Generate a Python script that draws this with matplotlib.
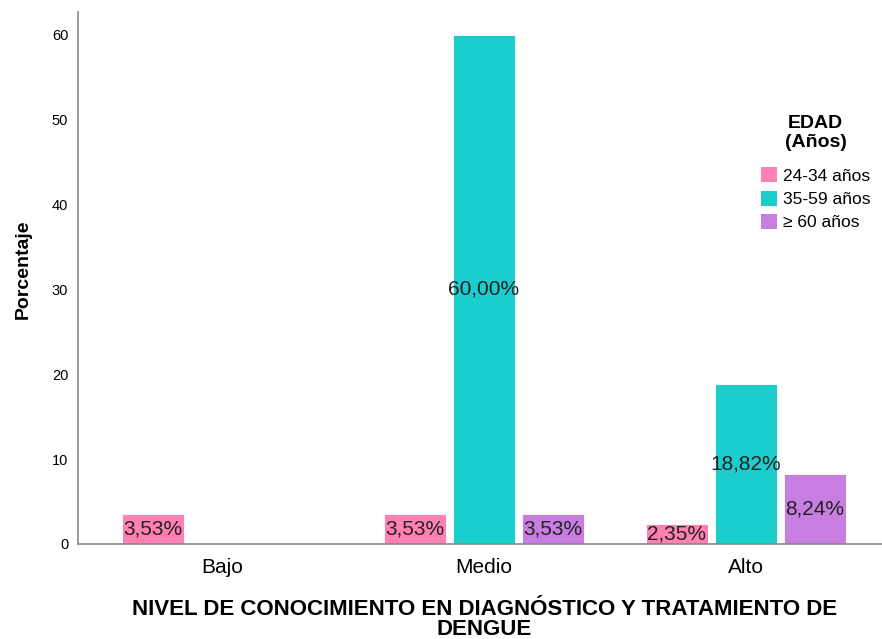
import numpy as np
import matplotlib.pyplot as plt
from matplotlib.patches import Patch

plt.rcParams['font.family'] = ['Liberation Sans', 'DejaVu Sans']

# Porcentaje por nivel de conocimiento y grupo de edad
niveles = ["Bajo", "Medio", "Alto"]
grupos = ["24-34 años", "35-59 años", "≥ 60 años"]
edad_24_34 = [3.53, 3.53, 2.35]
edad_35_59 = [0.0, 60.00, 18.82]
edad_60 = [0.0, 3.53, 8.24]
colores = ["#ff80b2", "#1ccdcd", "#c87ee0"]

series = [edad_24_34, edad_35_59, edad_60]

fig = plt.figure(figsize=(8.82, 6.39), dpi=100)
ax = fig.add_axes([0.0884, 0.1487, 0.9116, 0.8325])

x = np.arange(len(niveles))
ancho = 0.237
paso = 0.263

for i, (vals, col) in enumerate(zip(series, colores)):
    pos = x + (i - 1) * paso
    for xp, v in zip(pos, vals):
        if v <= 0:
            continue
        ax.bar(xp, v, width=ancho, color=col, edgecolor="white", linewidth=0.6)
        etiqueta = f"{v:.2f}".replace(".", ",") + "%"
        ax.text(xp, v / 2, etiqueta, ha="center", va="center",
                fontsize=15, color="#222222")

ax.set_xlim(-0.55, 2.52)
ax.set_ylim(0, 62.7)
ax.set_yticks([0, 10, 20, 30, 40, 50, 60])
ax.set_xticks(x)
ax.set_xticklabels(niveles, fontsize=15)
ax.tick_params(axis="y", length=0, labelsize=10.5, pad=7)
ax.tick_params(axis="x", length=0, pad=10)

for lado in ["top", "right"]:
    ax.spines[lado].set_visible(False)
for lado in ["left", "bottom"]:
    ax.spines[lado].set_color("#888888")
    ax.spines[lado].set_linewidth(1.2)

ax.set_ylabel("Porcentaje", fontsize=14, fontweight="bold")
ax.yaxis.set_label_coords(-0.057, 0.517)

fig.text(0.549, 0.031, "NIVEL DE CONOCIMIENTO EN DIAGNÓSTICO Y TRATAMIENTO DE\nDENGUE",
         ha="center", va="center", fontsize=16, fontweight="bold",
         linespacing=0.95)

handles = [Patch(facecolor=c, edgecolor="none") for c in colores]
leg = fig.legend(handles, grupos, loc="upper left", bbox_to_anchor=(0.845, 0.845),
                 frameon=False, fontsize=12.5, title="EDAD\n(Años)",
                 handlelength=0.95, handleheight=0.95, handletextpad=0.3,
                 labelspacing=0.4)
leg.get_title().set_fontweight("bold")
leg.get_title().set_fontsize(14)
leg.get_title().set_multialignment("center")
# más aire entre el título y las entradas
leg._legend_box.sep = 11.5

fig.savefig("out.png", dpi=100, facecolor="white")
